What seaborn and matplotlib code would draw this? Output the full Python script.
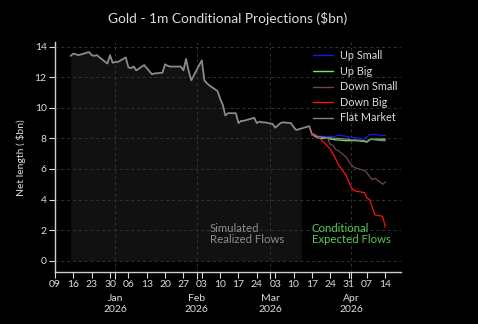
import matplotlib
matplotlib.use("Agg")
import matplotlib.pyplot as plt
import matplotlib.dates as mdates
import seaborn as sns
import pandas as pd
import numpy as np

# ---------------- data ----------------
hist_start, hist_end = "2025-12-15", "2026-03-16"
hist_vals = [
    13.40, 13.55, 13.50, 13.45, 13.50,
    13.65, 13.45, 13.40, 13.45, 13.30,
    12.90, 13.45, 12.95, 13.00, 13.00,
    13.30, 12.65, 12.60, 12.70, 12.45,
    12.80, 12.60, 12.40, 12.20, 12.25,
    12.30, 12.85, 12.75, 12.70, 12.70,
    12.70, 12.45, 13.20, 12.40, 11.80,
    12.80, 13.10, 11.80, 11.60, 11.45,
    11.10, 10.60, 10.20, 9.50, 9.65,
    9.65, 9.00, 9.15, 9.15, 9.20,
    9.35, 9.00, 9.10, 9.05, 9.05,
    8.95, 8.70, 8.85, 9.00, 9.05,
    9.00, 8.75, 8.55, 8.60, 8.65,
    8.80,
]
shade_end = "2026-03-13"

proj_start, proj_end = "2026-03-16", "2026-04-14"
up_small = [8.80, 8.30, 8.20, 8.15, 8.15, 8.10, 8.15, 8.10, 8.15, 8.20, 8.15,
            8.10, 8.10, 8.05, 8.05, 7.95, 8.10, 8.25, 8.25, 8.25, 8.20, 8.20]
up_big = [8.80, 8.30, 8.15, 8.05, 8.00, 8.00, 7.95, 7.95, 7.90, 7.90, 7.85,
          7.85, 7.85, 7.85, 7.85, 7.80, 7.75, 7.90, 7.95, 7.95, 7.95, 7.95]
down_small = [8.80, 8.30, 8.20, 8.15, 8.10, 8.00, 7.60, 7.55, 7.30, 7.20, 6.80,
              6.50, 6.30, 6.10, 6.05, 5.90, 5.75, 5.50, 5.30, 5.40, 5.00, 5.15]
down_big = [8.80, 8.20, 8.30, 8.10, 8.00, 7.50, 7.30, 7.00, 6.70, 6.30, 5.60,
            5.20, 4.80, 4.60, 4.55, 4.45, 4.10, 4.00, 3.50, 3.00, 2.90, 2.20]
flat_market = [8.80, 8.30, 8.20, 8.10, 8.10, 8.05, 8.05, 8.00, 8.00, 8.00, 7.95,
               7.95, 7.90, 7.90, 7.90, 7.85, 7.80, 7.95, 7.95, 7.90, 7.85, 7.85]
scenario_names = ["Up Small", "Up Big", "Down Small", "Down Big", "Flat Market"]
scenario_colors = ["#1a1adc", "#66ee66", "#6a4a45", "#ff1010", "#858585"]
y_ticks = [0, 2, 4, 6, 8, 10, 12, 14]

# ---------------- build tables ----------------
hist_dates = pd.bdate_range(hist_start, hist_end)
hist = pd.DataFrame({"date": hist_dates, "value": hist_vals})
proj_dates = pd.bdate_range(proj_start, proj_end)
series = [up_small, up_big, down_small, down_big, flat_market]
proj = pd.concat([pd.DataFrame({"date": proj_dates, "value": v, "scenario": n})
                  for n, v in zip(scenario_names, series)], ignore_index=True)

# ---------------- style ----------------
sns.set_theme(style="dark")
plt.rcParams["font.family"] = ["Lato", "DejaVu Sans"]
fg = "#dcdcdc"
plt.rcParams.update({
    "figure.facecolor": "black", "axes.facecolor": "black",
    "text.color": fg, "axes.labelcolor": fg,
    "xtick.color": fg, "ytick.color": fg,
})

fig = plt.figure(figsize=(4.78, 3.24), dpi=100)
ax = fig.add_axes([0.115, 0.160, 0.724, 0.710])

shade = hist[hist["date"] <= pd.Timestamp(shade_end)]
ax.fill_between(shade["date"], 0, shade["value"], color="#111111", lw=0, zorder=1)

sns.lineplot(data=hist, x="date", y="value", color="#8a8a8a", lw=1.3, ax=ax, zorder=3)
sns.lineplot(data=proj, x="date", y="value", hue="scenario", hue_order=scenario_names,
             palette=scenario_colors, lw=0.9, ax=ax, zorder=4)

ax.set_xlim(pd.Timestamp("2025-12-09"), pd.Timestamp("2026-04-20"))
ax.set_ylim(-0.75, 14.3)
ax.set_yticks(y_ticks)

ax.xaxis.set_major_locator(mdates.MonthLocator())
ax.xaxis.set_major_formatter(mdates.DateFormatter("%b\n%Y"))
ax.xaxis.set_minor_locator(mdates.WeekdayLocator(byweekday=mdates.TU))
ax.xaxis.set_minor_formatter(mdates.DateFormatter("%d"))

ax.tick_params(axis="x", which="minor", length=4, width=0.8, labelsize=7.5, pad=2, color=fg)
ax.tick_params(axis="x", which="major", length=5, width=0.8, labelsize=7.5, pad=11, color=fg)
ax.tick_params(axis="y", length=4, width=0.8, labelsize=7.5, pad=2, color=fg, left=True)
ax.tick_params(axis="x", bottom=True, which="both")

ax.grid(True, which="major", axis="both", color="#333333", ls=(0, (3, 3)), lw=0.7, zorder=2)
ax.set_axisbelow(False)
for s in ["top", "right"]:
    ax.spines[s].set_visible(False)
for s in ["left", "bottom"]:
    ax.spines[s].set_visible(True)
    ax.spines[s].set_color("#cfcfcf")
    ax.spines[s].set_linewidth(1.0)

ax.set_xlabel("")
ax.set_ylabel("Net length ( $bn)", fontsize=7.5, labelpad=6)
ax.set_title("Gold - 1m Conditional Projections ($bn)", fontsize=9.9, color=fg, pad=14)

leg = ax.legend(loc="upper left", bbox_to_anchor=(0.716, 1.007), frameon=False,
                fontsize=7.8, handlelength=1.85, labelspacing=0.42, handletextpad=0.65)
for t in leg.get_texts():
    t.set_color(fg)
for l in leg.get_lines():
    l.set_linewidth(1.0)

ax.text(pd.Timestamp("2026-02-06"), 2.45, "Simulated\nRealized Flows", color="#8c8c8c",
        fontsize=8.2, va="top", ha="left", linespacing=1.0)
ax.text(pd.Timestamp("2026-03-17"), 2.45, "Conditional\nExpected Flows", color="#55cc55",
        fontsize=8.2, va="top", ha="left", linespacing=1.0)

fig.savefig("out.png", dpi=100, facecolor="black")
